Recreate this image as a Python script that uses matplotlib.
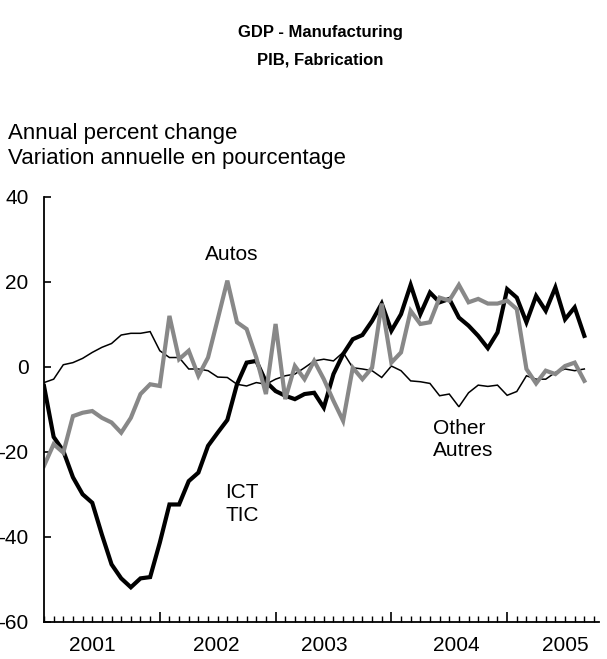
import matplotlib.pyplot as plt
import numpy as np
from matplotlib.ticker import FixedLocator, NullFormatter

plt.rcParams['font.family'] = ['Liberation Sans', 'DejaVu Sans']

# monthly, index 0 = Jan 2001
ict = [-4.5, -16.5, -19.8, -26.0, -30.0, -32.0, -39.5, -46.5, -49.8, -51.9,
       -49.8, -49.5, -41.4, -32.4, -32.4, -26.9, -24.9, -18.6, -15.5, -12.5,
       -4.1, 1.0, 1.4, -3.5, -5.7, -6.8, -7.6, -6.4, -6.1, -9.6,
       -1.7, 3.0, 6.5, 7.5, 10.8, 14.9, 8.5, 12.4, 19.3, 12.4,
       17.5, 15.2, 16.0, 11.6, 9.7, 7.3, 4.4, 8.1, 18.3, 16.3,
       10.5, 16.7, 13.2, 18.7, 11.2, 14.0, 7.3]
autos = [-23.3, -18.2, -20.2, -11.6, -10.8, -10.4, -12.0, -13.1, -15.5, -12.0,
         -6.4, -4.1, -4.5, 12.0, 1.8, 3.8, -2.1, 2.2, 11.2, 20.3,
         10.5, 8.9, 2.2, -6.4, 10.1, -7.6, 0.2, -2.9, 1.4, -2.9,
         -8.0, -12.7, -0.2, -2.9, -0.2, 14.9, 1.0, 3.4, 13.2, 10.1,
         10.5, 16.3, 15.6, 19.3, 15.2, 16.0, 14.9, 14.9, 15.6, 13.6,
         -0.5, -3.9, -0.9, -1.7, 0.2, 1.0, -3.3]
other = [-3.7, -2.9, 0.5, 1.0, 2.0, 3.4, 4.6, 5.5, 7.5, 7.9,
         7.9, 8.3, 3.8, 2.2, 2.2, -0.5, -0.5, -0.9, -2.4, -2.5,
         -4.1, -4.5, -3.7, -4.1, -2.9, -2.1, -1.7, -0.2, 1.4, 1.8,
         1.4, 3.4, -0.2, -0.5, -0.9, -2.5, 0.2, -0.9, -3.3, -3.5,
         -3.9, -6.8, -6.4, -9.4, -6.1, -4.3, -4.6, -4.3, -6.7, -5.8,
         -2.1, -2.9, -2.9, -1.3, -0.5, -0.9, -0.5]
years = ['2001', '2002', '2003', '2004', '2005']
year_pos = [5.0, 17.9, 29.1, 42.7, 54.0]

months = np.arange(len(ict))

fig = plt.figure(figsize=(6.07, 6.59), dpi=100)
ax = fig.add_axes([0.0725, 0.0566, 0.914, 0.6445])

ax.plot(months, other, color='black', lw=1.1, solid_joinstyle='miter')
ax.plot(months, ict, color='black', lw=3.0, solid_joinstyle='miter')
ax.plot(months, autos, color='#888888', lw=3.0, solid_joinstyle='miter')

ax.set_xlim(0, 57.5)
ax.set_ylim(-60, 40)
ax.set_yticks(np.arange(-60, 41, 20))
ax.set_yticklabels(['-60', '-40', '-20', '0', '20', '40'])

ax.xaxis.set_major_locator(FixedLocator([12, 24, 36, 48]))
ax.xaxis.set_minor_locator(FixedLocator(np.arange(0, 58)))
ax.xaxis.set_major_formatter(NullFormatter())
ax.tick_params(axis='x', which='major', direction='in', length=7, width=1.2)
ax.tick_params(axis='x', which='minor', direction='in', length=4.5, width=1.0)
ax.tick_params(axis='y', direction='in', length=5, width=1.2, pad=11, labelsize=15)

for s in ['top', 'right']:
    ax.spines[s].set_visible(False)
for s in ['left', 'bottom']:
    ax.spines[s].set_linewidth(1.3)

for lab, xp in zip(years, year_pos):
    ax.text(xp, -0.055, lab, transform=ax.get_xaxis_transform(),
            ha='center', va='center', fontsize=15)

ax.text(16.7, 26.4, 'Autos', ha='left', va='center', fontsize=15)
ax.text(18.8, -32.3, 'ICT\nTIC', ha='left', va='center', fontsize=15, linespacing=1.25)
ax.text(40.3, -17.1, 'Other\nAutres', ha='left', va='center', fontsize=15, linespacing=1.2)

fig.text(320 / 607, 1 - 33 / 659, 'GDP - Manufacturing', ha='center', va='center',
         fontsize=12, fontweight='bold')
fig.text(320 / 607, 1 - 60 / 659, 'PIB, Fabrication', ha='center', va='center',
         fontsize=12, fontweight='bold')
fig.text(8 / 607, 1 - 133 / 659, 'Annual percent change', ha='left', va='center', fontsize=16)
fig.text(8 / 607, 1 - 159 / 659, 'Variation annuelle en pourcentage', ha='left', va='center', fontsize=16)

fig.savefig('out.png', dpi=100)
